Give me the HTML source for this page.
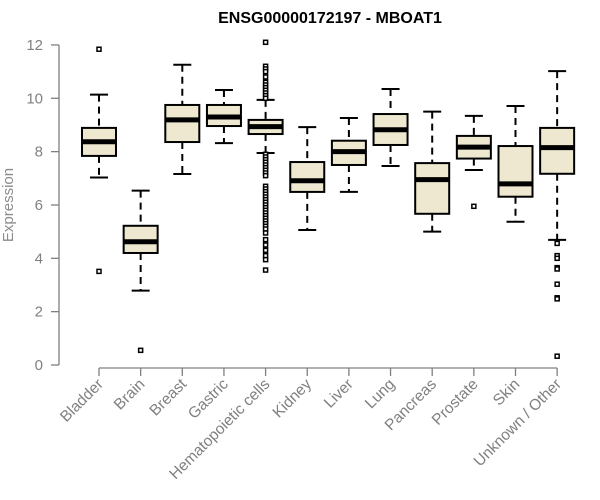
<!DOCTYPE html>
<html><head><meta charset="utf-8"><style>
body{margin:0;background:#fff}
svg{display:block;font-family:"Liberation Sans",Arial,sans-serif}
</style></head><body>
<svg id="chart" width="600" height="500">
<text x="330" y="23" text-anchor="middle" font-weight="bold" font-size="16">ENSG00000172197 - MBOAT1</text>
<text transform="translate(13,205) rotate(-90)" text-anchor="middle" font-size="15" fill="#8c8c8c">Expression</text>
</svg>
<script>
const categories=["Bladder","Brain","Breast","Gastric","Hematopoietic cells","Kidney","Liver","Lung","Pancreas","Prostate","Skin","Unknown / Other"];
const whiskerLow=[7.03,2.79,7.16,8.32,7.95,5.06,6.49,7.46,5.0,7.31,5.37,4.69];
const q1=[7.84,4.2,8.36,8.96,8.66,6.49,7.5,8.25,5.67,7.74,6.31,7.17];
const medians=[8.37,4.62,9.19,9.3,8.94,6.91,8.0,8.82,6.95,8.17,6.79,8.15];
const q3=[8.89,5.22,9.75,9.75,9.19,7.61,8.41,9.41,7.57,8.59,8.21,8.89];
const whiskerHigh=[10.14,6.54,11.26,10.31,9.94,8.92,9.26,10.35,9.5,9.34,9.71,11.02];
const outliers=[[11.84,3.51],[0.55],[],[],
[12.1,11.2,11.1,11.0,10.8,10.6,10.5,10.4,10.3,10.2,10.1,10.0,7.9,7.8,7.7,7.6,7.5,7.4,7.3,7.2,7.1,6.7,6.6,6.5,6.4,6.3,6.2,6.1,6.0,5.9,5.8,5.7,5.6,5.5,5.4,5.3,5.2,5.1,4.95,4.7,4.5,4.3,4.1,3.95,3.56],
[],[],[],[],[5.95],[],[4.56,4.1,4.0,3.65,3.6,3.03,2.52,2.48,0.33]];
const yTicks=[0,2,4,6,8,10,12];
const svg=document.getElementById('chart');const NS='http://www.w3.org/2000/svg';
const y=v=>365-v*26.67;const x=i=>99+i*41.65;
function mk(t,a,p){const e=document.createElementNS(NS,t);for(const k in a)e.setAttribute(k,a[k]);(p||svg).appendChild(e);return e;}
const ax=mk('g',{stroke:'#808080','stroke-width':1.3});


mk('line',{x1:59,y1:y(0),x2:59,y2:y(12)},ax);
yTicks.forEach(t=>{mk('line',{x1:51,y1:y(t),x2:59,y2:y(t)},ax);
const tx=mk('text',{x:43,y:y(t)+5,'text-anchor':'end','font-size':15,fill:'#808080',stroke:'none'});tx.textContent=t;

});
const xa=mk('g',{stroke:'#808080','stroke-width':1.3});


mk('line',{x1:x(0),y1:368,x2:x(11),y2:368},xa);
categories.forEach((c,i)=>{mk('line',{x1:x(i),y1:368,x2:x(i),y2:376},xa);
const tx=mk('text',{transform:`translate(${x(i)+5},${385}) rotate(-45)`,'text-anchor':'end','font-size':15.5,fill:'#808080',stroke:'none'});tx.textContent=c;

});
categories.forEach((c,i)=>{const g=mk('g',{stroke:'#000'});


const cx=x(i);
mk('line',{x1:cx,y1:y(whiskerHigh[i]),x2:cx,y2:y(q3[i]),'stroke-width':2,'stroke-dasharray':'7,5'},g);
mk('line',{x1:cx,y1:y(q1[i]),x2:cx,y2:y(whiskerLow[i]),'stroke-width':2,'stroke-dasharray':'7,5'},g);
mk('line',{x1:cx-9,y1:y(whiskerHigh[i]),x2:cx+9,y2:y(whiskerHigh[i]),'stroke-width':2},g);
mk('line',{x1:cx-9,y1:y(whiskerLow[i]),x2:cx+9,y2:y(whiskerLow[i]),'stroke-width':2},g);
mk('rect',{x:cx-17,y:y(q3[i]),width:34,height:y(q1[i])-y(q3[i]),fill:'#ede8cf','stroke-width':2},g);
mk('line',{x1:cx-17,y1:y(medians[i]),x2:cx+17,y2:y(medians[i]),'stroke-width':5},g);
outliers[i].forEach(v=>{mk('rect',{x:cx-2,y:y(v)-2,width:4,height:4,fill:'#fff','stroke-width':1.5},g);});
});
</script>
</body></html>
